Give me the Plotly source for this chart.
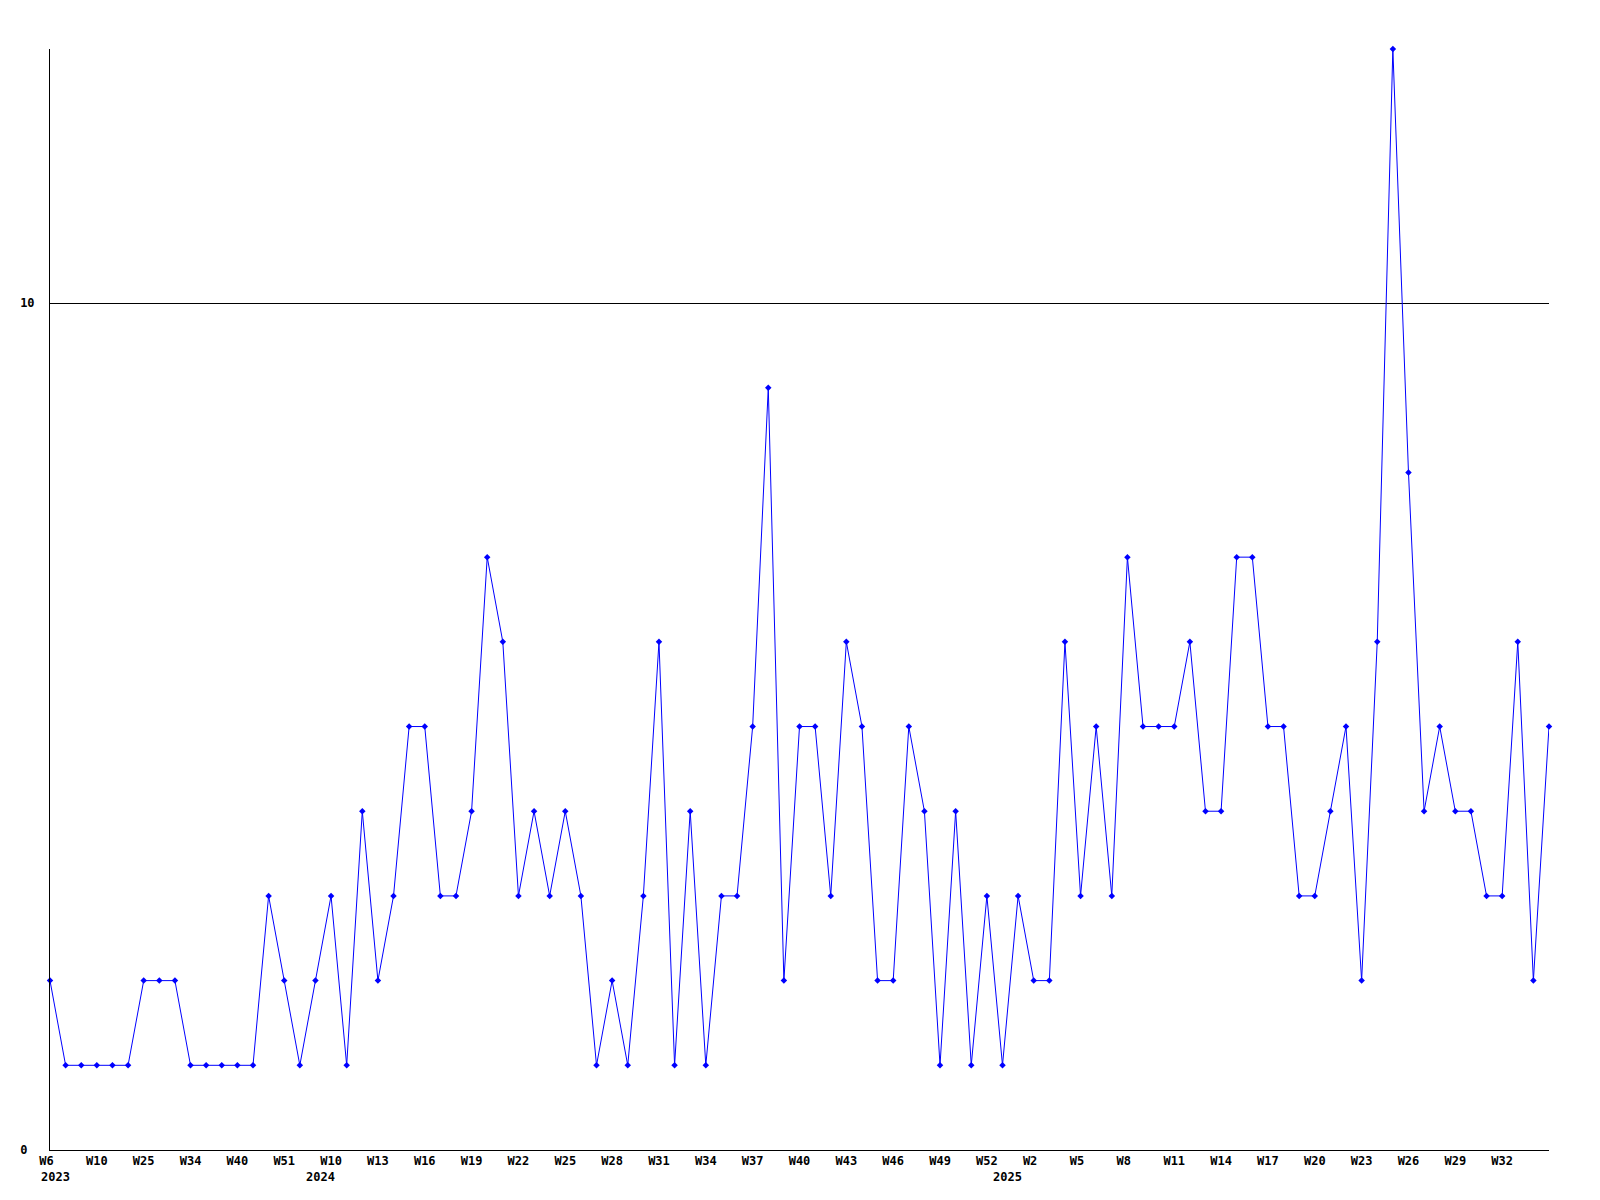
import plotly.graph_objects as go

# ---- data ----
weeks_2023 = ["W6", "W7", "W8", "W10", "W15", "W20", "W25", "W27", "W30", "W34",
              "W36", "W38", "W40", "W45", "W48", "W51", "W52"]
weeks_2024 = ["W%d" % w for w in range(9, 53)]
weeks_2025 = ["W%d" % w for w in range(0, 36)]
years = ["2023", "2024", "2025"]

values = [2, 1, 1, 1, 1, 1, 2, 2, 2, 1,
          1, 1, 1, 1, 3, 2, 1, 2, 3, 1,
          4, 2, 3, 5, 5, 3, 3, 4, 7, 6,
          3, 4, 3, 4, 3, 1, 2, 1, 3, 6,
          1, 4, 1, 3, 3, 5, 9, 2, 5, 5,
          3, 6, 5, 2, 2, 5, 4, 1, 4, 1,
          3, 1, 3, 2, 2, 6, 3, 5, 3, 7,
          5, 5, 5, 6, 4, 4, 7, 7, 5, 5,
          3, 3, 4, 5, 2, 6, 13, 8, 4, 5,
          4, 4, 3, 3, 6, 2, 5]

y_ticks = [0, 10]

# ---- build categories ----
cats, week_lbl, year_first = [], [], []
for yr, wks in zip(years, [weeks_2023, weeks_2024, weeks_2025]):
    year_first.append((yr, "%s-%s" % (yr, wks[0])))
    for w in wks:
        cats.append("%s-%s" % (yr, w))
        week_lbl.append(w)

# every third week labelled, last partial group left unlabelled
n_lab = len(cats) - 1
tickvals = cats[:n_lab:3]
# labels are laid out as 3-character cells (monospace), so pad short ones
ticktext = [w.ljust(3, "\u00a0") for w in week_lbl[:n_lab:3]]

FONT = "DejaVu Sans Mono"

fig = go.Figure()
fig.add_trace(go.Scatter(
    x=cats, y=values, mode="lines+markers",
    line=dict(color="#0000ff", width=1),
    marker=dict(symbol="diamond", size=5, color="#0000ff"),
    cliponaxis=False, showlegend=False,
))

for yr, c in year_first:
    fig.add_annotation(x=c, y=0, xref="x", yref="paper", text=yr,
                       showarrow=False, yshift=-27, yanchor="middle",
                       xanchor="left", xshift=-11,
                       font=dict(family=FONT, size=12, color="black", weight="bold"))

fig.update_layout(
    width=1600, height=1200,
    paper_bgcolor="white", plot_bgcolor="white",
    margin=dict(l=42, r=59, t=41, b=58),
    font=dict(family=FONT, size=12, color="black", weight="bold"),
)
fig.update_xaxes(
    type="category", categoryorder="array", categoryarray=cats,
    range=[0, len(cats) - 1],
    tickmode="array", tickvals=tickvals, ticktext=ticktext,
    ticks="", showgrid=False, zeroline=False,
    showline=True, linecolor="black", linewidth=1,
    ticklabelstandoff=0,
)
fig.update_yaxes(
    range=[0, 13], tickmode="array", tickvals=y_ticks,
    ticktext=["%d\u00a0" % v if v < 10 else "%d" % v for v in y_ticks],
    ticks="", showgrid=True, gridcolor="black", gridwidth=1,
    zeroline=False, showline=True, linecolor="black", linewidth=1,
    ticklabelstandoff=12,
)

fig.write_html("out.html")
